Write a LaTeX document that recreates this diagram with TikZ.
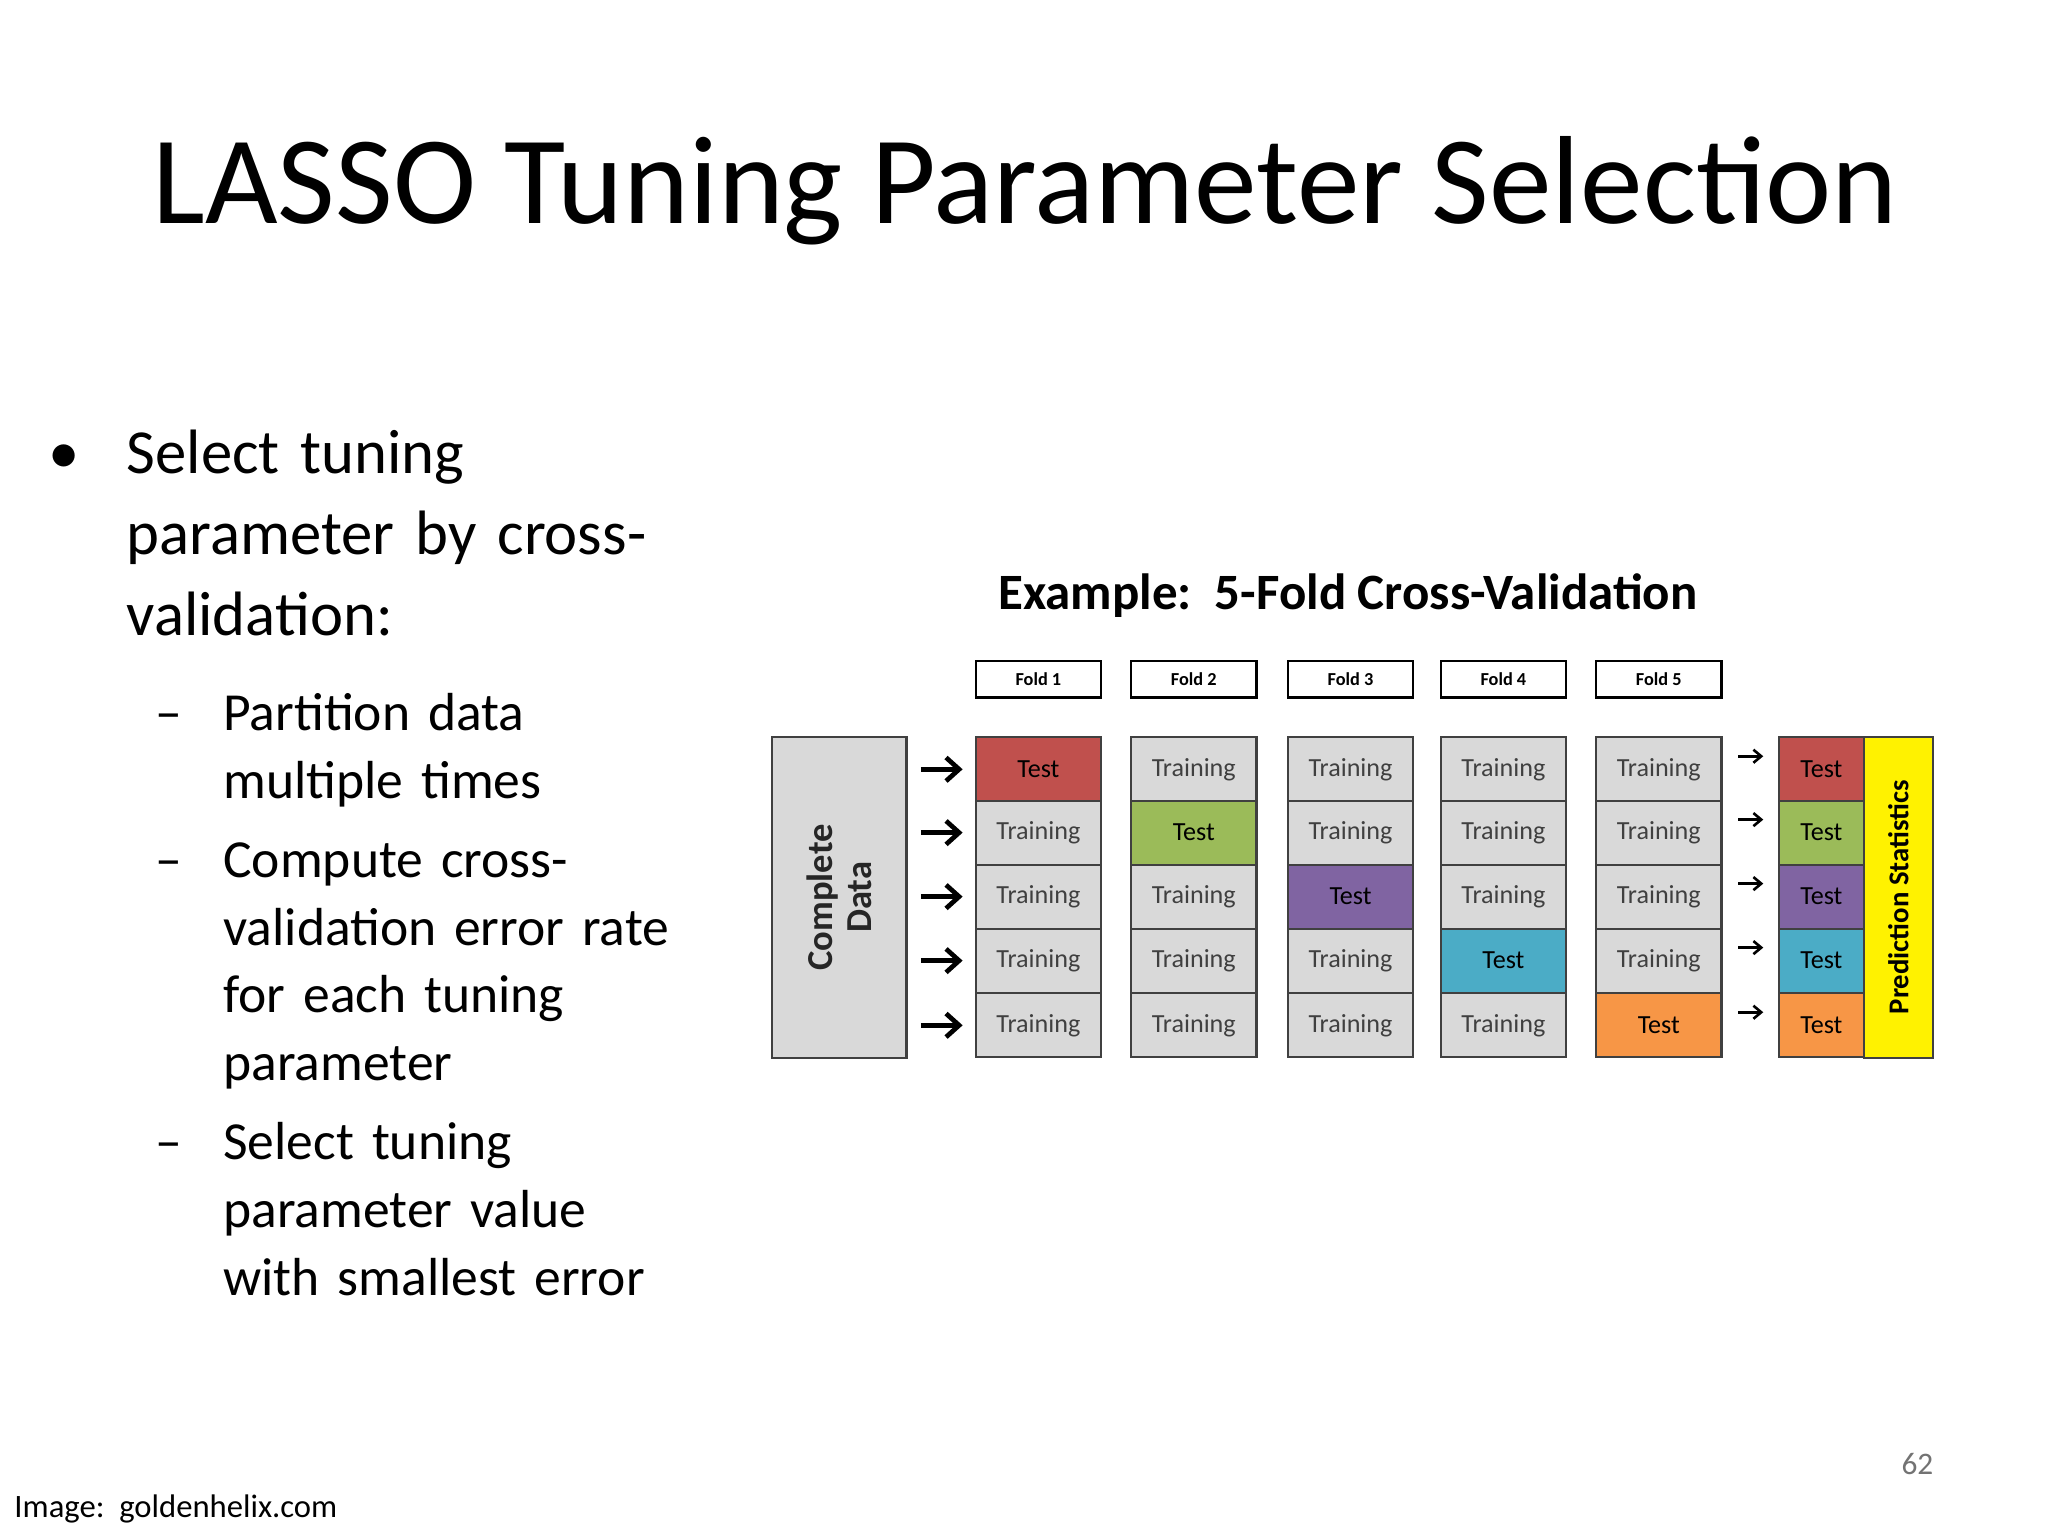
\documentclass[tikz,border=0pt]{standalone}
\usepackage{fontspec}
\setmainfont{Carlito}
\usetikzlibrary{arrows.meta}
\definecolor{cred}{HTML}{C0504D}
\definecolor{cgreen}{HTML}{9BBB59}
\definecolor{cpurple}{HTML}{8064A2}
\definecolor{cblue}{HTML}{4BACC6}
\definecolor{corange}{HTML}{F79646}
\definecolor{cgray}{HTML}{D9D9D9}
\tikzset{
 cell/.style={draw=black!75,line width=0.8pt,fill=cgray,minimum width=48pt,minimum height=24.5pt,inner sep=0,font=\fontsize{10}{12}\selectfont,text=black!75},
 testcell/.style={cell,text=black},
 hdr/.style={draw=black,line width=0.8pt,fill=white,minimum width=48pt,minimum height=14pt,inner sep=0,font=\bfseries\fontsize{7}{8}\selectfont},
 bigarr/.style={-{Straight Barb[length=5pt,width=9pt]},line width=1.8pt},
 smallarr/.style={-{Straight Barb[length=3pt,width=5pt]},line width=1pt},
}
\begin{document}
\begin{tikzpicture}[x=0.5pt,y=-0.5pt]
\useasboundingbox[fill=white] (0,0) rectangle (1568,1176);
\node (title) at (785,146) {\fontsize{48}{56}\selectfont LASSO Tuning Parameter Selection};
\node[anchor=north west,align=left,text width=250pt,font=\fontsize{24}{31}\selectfont] (b1) at (30,322)
 {\makebox[30pt][l]{•}Select tuning\\\hspace*{30pt}parameter by cross-\\\hspace*{30pt}validation:};
\node[anchor=north west,align=left,text width=250pt,font=\fontsize{20.5}{26}\selectfont] (b2) at (112,524)
 {\makebox[26pt][l]{–}Partition data\\\hspace*{26pt}multiple times\\[4pt]
  \makebox[26pt][l]{–}Compute cross-\\\hspace*{26pt}validation error rate\\\hspace*{26pt}for each tuning\\\hspace*{26pt}parameter\\[4pt]
  \makebox[26pt][l]{–}Select tuning\\\hspace*{26pt}parameter value\\\hspace*{26pt}with smallest error};
\node (ex) at (1032,456) {\bfseries\fontsize{19.5}{22}\selectfont Example:\ \ 5-Fold Cross-Validation};
\node[draw=black!75,line width=0.8pt,fill=cgray,minimum width=51.5pt,minimum height=123pt,inner sep=0] (cd) at (642.5,687) {};
\node[rotate=90,align=center,font=\bfseries\fontsize{14}{15}\selectfont,text=black!85] (cdt) at (642.5,687) {Complete\\Data};
\foreach \j/\x/\col in {1/795/cred,2/914/cgreen,3/1034/cpurple,4/1151/cblue,5/1270/corange}{
  \node[hdr] (h\j) at (\x,520) {Fold \j};
  \foreach \i/\y in {1/589,2/637.5,3/686.5,4/735.5,5/785}{
    \ifnum\i=\j
      \node[testcell,fill=\col] (c\i\j) at (\x,\y) {Test};
    \else
      \node[cell] (c\i\j) at (\x,\y) {Training};
    \fi
  }
}
\foreach \i/\y/\col in {1/589/cred,2/637.5/cgreen,3/686.5/cpurple,4/735.5/cblue,5/785/corange}{
  \coordinate (a\i) at (705,\y); \coordinate (b\i) at (737,\y);
  \draw[bigarr] (a\i) -- (b\i);
  \coordinate (s\i) at (1331,\y-10); \coordinate (t\i) at (1350,\y-10);
  \draw[smallarr] (s\i) -- (t\i);
  \node[testcell,fill=\col,minimum width=32.5pt] (r\i) at (1394.5,\y) {Test};
}
\node[draw=black!75,line width=0.8pt,fill=yellow,minimum width=26.5pt,minimum height=123pt,inner sep=0] (ps) at (1453.5,687) {};
\node[rotate=90,font=\bfseries\fontsize{11}{12}\selectfont] (pst) at (1453.5,687) {Prediction Statistics};
\node[anchor=west,font=\fontsize{12.5}{14}\selectfont] (img) at (4,1155) {Image:\ \ goldenhelix.com};
\node[font=\fontsize{12}{14}\selectfont,text=black!55] (pg) at (1468,1121) {62};
\end{tikzpicture}
\end{document}
